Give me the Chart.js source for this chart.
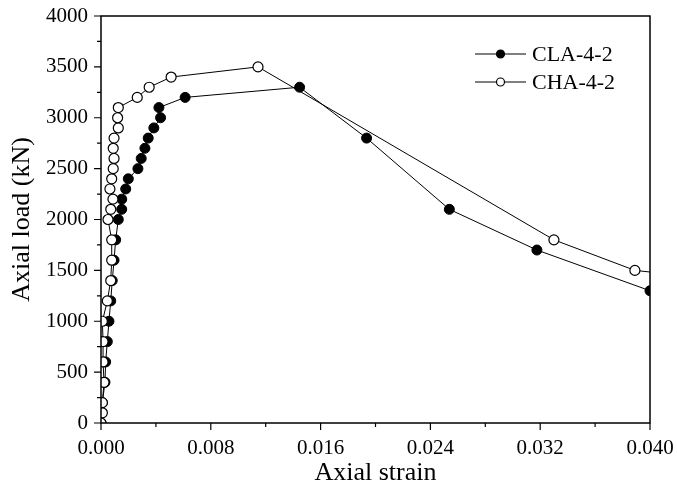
<!DOCTYPE html>
<html>
<head>
<meta charset="utf-8">
<script src="https://cdn.jsdelivr.net/npm/chart.js@4.4.1/dist/chart.umd.min.js"></script>
<style>
  body { margin: 0; background: #fff; }
  #wrap { width: 677px; height: 493px; }
</style>
</head>
<body>
<div id="wrap"><canvas id="chart"></canvas></div>
<script>
// CLA-4-2 (filled markers)
var claStrain = [0, 0.0001, 0.00029, 0.00034, 0.00046, 0.00058, 0.00071, 0.00082, 0.00095, 0.00107,
    0.00126, 0.00151, 0.00151, 0.0018, 0.00199, 0.00269, 0.00293, 0.0032, 0.00344, 0.00385,
    0.00434, 0.00422, 0.00613, 0.01447, 0.01935, 0.02538, 0.03176, 0.0400];
var claLoad = [0, 200, 400, 600, 800, 1000, 1200, 1400, 1600, 1800,
    2000, 2100, 2200, 2300, 2400, 2500, 2600, 2700, 2800, 2900,
    3000, 3100, 3200, 3300, 2800, 2100, 1700, 1300];

// CHA-4-2 (open markers)
var chaStrain = [0, 0.0001, 0.0001, 0.00022, 0.00015, 0.00015, 0.0001, 0.00046, 0.00071, 0.00078,
    0.00078, 0.00051, 0.00071, 0.00087, 0.00065, 0.00078, 0.00089, 0.00095, 0.00089, 0.00095,
    0.00126, 0.00121, 0.00126, 0.00264, 0.00351, 0.00511, 0.01144, 0.033, 0.0389, 0.0457];
var chaLoad = [0, 100, 200, 400, 600, 800, 1000, 1200, 1400, 1600,
    1800, 2000, 2100, 2200, 2300, 2400, 2500, 2600, 2700, 2800,
    2900, 3000, 3100, 3200, 3300, 3400, 3500, 1800, 1500, 1400];

var xTicks = [0, 0.008, 0.016, 0.024, 0.032, 0.040];
var yTicks = [0, 500, 1000, 1500, 2000, 2500, 3000, 3500, 4000];

var FONT = "'Liberation Serif', 'Times New Roman', serif";

function pts(xs, ys) {
    var out = [];
    for (var i = 0; i < xs.length; i++) out.push({ x: xs[i], y: ys[i] });
    return out;
}

// frame, major/minor ticks and the line+marker legend
var decor = {
    id: 'decor',
    afterDraw: function (chart) {
        var c = chart.ctx, a = chart.chartArea;
        var xs = chart.scales.x, ys = chart.scales.y;
        c.save();
        c.strokeStyle = '#000';
        c.lineWidth = 1.5;
        c.strokeRect(a.left, a.top, a.right - a.left, a.bottom - a.top);

        c.lineWidth = 1.2;
        c.beginPath();
        for (var i = 0; i <= 10; i++) {
            var px = xs.getPixelForValue(i * 0.004);
            c.moveTo(px, a.bottom);
            c.lineTo(px, a.bottom + (i % 2 == 0 ? 7 : 4));
        }
        for (var j = 0; j <= 16; j++) {
            var py = ys.getPixelForValue(j * 250);
            c.moveTo(a.left, py);
            c.lineTo(a.left - (j % 2 == 0 ? 7 : 4), py);
        }
        c.stroke();

        // legend
        var lx = a.right - 175;
        var rows = [a.top + 38, a.top + 66];
        chart.data.datasets.forEach(function (ds, k) {
            var y = rows[k];
            c.strokeStyle = '#000';
            c.lineWidth = 1;
            c.beginPath();
            c.moveTo(lx, y);
            c.lineTo(lx + 51, y);
            c.stroke();
            c.beginPath();
            c.arc(lx + 25.5, y, 4, 0, Math.PI * 2);
            c.fillStyle = ds.pointBackgroundColor;
            c.fill();
            c.lineWidth = 1.2;
            c.stroke();
            c.fillStyle = '#000';
            c.font = '22px ' + FONT;
            c.textBaseline = 'middle';
            c.textAlign = 'left';
            c.fillText(ds.label, lx + 57, y + 1);
        });
        c.restore();
    }
};

var ctx = document.getElementById('chart').getContext('2d');
var chart = new Chart(ctx, {
    type: 'line',
    data: {
        datasets: [
            {
                label: 'CLA-4-2',
                data: pts(claStrain, claLoad),
                borderColor: '#000',
                borderWidth: 1,
                pointRadius: 5,
                pointBackgroundColor: '#000',
                pointBorderColor: '#000',
                pointBorderWidth: 1,
                order: 2
            },
            {
                label: 'CHA-4-2',
                data: pts(chaStrain, chaLoad),
                borderColor: '#000',
                borderWidth: 1,
                pointRadius: 5,
                pointBackgroundColor: '#fff',
                pointBorderColor: '#000',
                pointBorderWidth: 1.2,
                order: 1
            }
        ]
    },
    options: {
        responsive: true,
        maintainAspectRatio: false,
        animation: false,
        layout: { padding: { top: 16, right: 27, left: 0, bottom: 0 } },
        plugins: {
            legend: { display: false },
            tooltip: { enabled: false }
        },
        scales: {
            x: {
                type: 'linear',
                min: 0,
                max: 0.04,
                grid: { display: false, drawTicks: false },
                border: { display: false },
                afterBuildTicks: function (s) { s.ticks = xTicks.map(function (v) { return { value: v }; }); },
                afterFit: function (s) { s.height = 70; s.paddingLeft = 0; s.paddingRight = 0; },
                ticks: {
                    padding: 13,
                    color: '#000',
                    maxRotation: 0,
                    font: { family: FONT, size: 21 },
                    callback: function (v) { return v.toFixed(3); }
                },
                title: {
                    display: true,
                    text: 'Axial strain',
                    color: '#000',
                    padding: { top: 3 },
                    font: { family: FONT, size: 26 }
                }
            },
            y: {
                min: 0,
                max: 4000,
                grid: { display: false, drawTicks: false },
                border: { display: false },
                afterBuildTicks: function (s) { s.ticks = yTicks.map(function (v) { return { value: v }; }); },
                afterFit: function (s) { s.width = 101; s.paddingTop = 0; s.paddingBottom = 0; },
                ticks: {
                    padding: 13,
                    color: '#000',
                    font: { family: FONT, size: 21 },
                    callback: function (v) { return String(v); }
                },
                title: {
                    display: true,
                    text: 'Axial load (kN)',
                    color: '#000',
                    padding: { top: 7, bottom: 0 },
                    font: { family: FONT, size: 26 }
                }
            }
        }
    },
    plugins: [decor]
});
</script>
</body>
</html>
